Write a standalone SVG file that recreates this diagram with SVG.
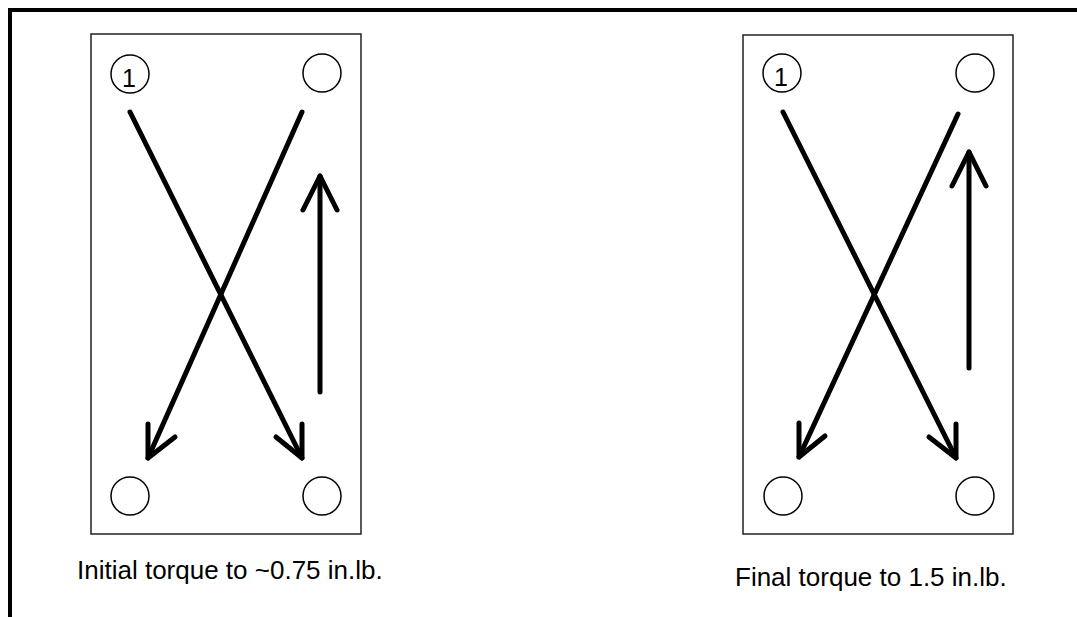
<svg xmlns="http://www.w3.org/2000/svg" width="1077" height="617" viewBox="0 0 1077 617">
<style>
.frame{fill:none;stroke:#000;stroke-width:4}
.plate{fill:#fff;stroke:#222;stroke-width:1.5}
.hole{fill:#fff;stroke:#000;stroke-width:1.5}
.arr{fill:none;stroke:#000;stroke-width:5;stroke-linecap:round;stroke-linejoin:round}
.lbl{font-family:"Liberation Sans",Arial,sans-serif;font-size:26px;fill:#000}
.num{font-family:"Liberation Sans",Arial,sans-serif;font-size:25px;fill:#000;text-anchor:middle}
</style>
<rect width="1077" height="617" fill="#fff"/>
<path class="frame" d="M10,617 V10 H1077"/>
<g id="plate-initial">
<rect class="plate" x="91" y="34" width="270" height="500"/>
<circle class="hole" cx="130" cy="74" r="19"/>
<text class="num" x="129" y="87">1</text>
<circle class="hole" cx="322" cy="73" r="19"/>
<circle class="hole" cx="130" cy="496" r="19"/>
<circle class="hole" cx="322" cy="496" r="19"/>
</g>
<g id="plate-final">
<rect class="plate" x="743" y="35" width="270" height="499"/>
<circle class="hole" cx="782" cy="73" r="19"/>
<text class="num" x="781" y="86">1</text>
<circle class="hole" cx="975" cy="73" r="19"/>
<circle class="hole" cx="783" cy="496" r="19"/>
<circle class="hole" cx="975" cy="496" r="19"/>
</g>
<g id="connectors">
<line class="arr" x1="130" y1="112" x2="302" y2="458"/>
<polyline class="arr" points="276,437 302,458 302,424"/>
<line class="arr" x1="302" y1="112" x2="148" y2="458"/>
<polyline class="arr" points="148,424 148,458 175,437"/>
<line class="arr" x1="320" y1="392" x2="320" y2="176"/>
<polyline class="arr" points="303,210 320,176 337,210"/>
<line class="arr" x1="783" y1="112" x2="956" y2="458"/>
<polyline class="arr" points="929,437 956,458 956,424"/>
<line class="arr" x1="958" y1="114" x2="799" y2="457"/>
<polyline class="arr" points="799,423 799,457 825,436"/>
<line class="arr" x1="969" y1="368" x2="969" y2="152"/>
<polyline class="arr" points="952,186 969,152 986,186"/>
</g>
<g id="labels">
<text class="lbl" x="77" y="579">Initial torque to ~0.75 in.lb.</text>
<text class="lbl" x="735" y="586">Final torque to 1.5 in.lb.</text>
</g>
</svg>
